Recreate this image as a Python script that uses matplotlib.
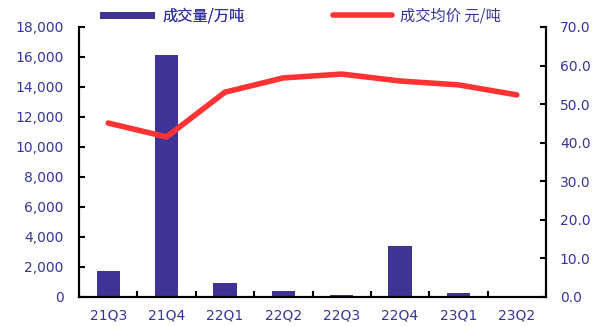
import matplotlib
matplotlib.use("Agg")
import matplotlib.pyplot as plt
from matplotlib.ticker import FuncFormatter, MultipleLocator
import numpy as np

plt.rcParams['font.family'] = ['DejaVu Sans', 'Noto Sans CJK SC']

categories = ["21Q3", "21Q4", "22Q1", "22Q2", "22Q3", "22Q4", "23Q1", "23Q2"]
volume = [1750, 16100, 950, 400, 130, 3400, 280, 0]
price = [45.1, 41.5, 53.1, 56.8, 57.8, 56.0, 55.0, 52.4]
bar_label = "成交量/万吨"
line_label = "成交均价 元/吨"

bar_color = "#3F3495"
line_color = "#FF3333"
text_color = "#3535A0"

fig = plt.figure(figsize=(6.01, 3.27), dpi=100)
ax = fig.add_axes([79/601, 30/327, (546-79)/601, (297-27)/327])
ax2 = ax.twinx()

x = np.arange(len(categories))
bars = ax.bar(x, volume, width=0.4, color=bar_color, zorder=2)
line, = ax2.plot(x, price, color=line_color, lw=4, solid_capstyle='round', solid_joinstyle='round', zorder=3)

ax.set_xlim(-0.5, len(categories) - 0.5)
ax.set_ylim(0, 18000)
ax2.set_ylim(0, 70)
ax.yaxis.set_major_locator(MultipleLocator(2000))
ax2.yaxis.set_major_locator(MultipleLocator(10))
ax.yaxis.set_major_formatter(FuncFormatter(lambda v, p: f"{int(v):,}"))
ax2.yaxis.set_major_formatter(FuncFormatter(lambda v, p: f"{v:.1f}"))

ax.set_xticks(x)
ax.set_xticklabels(categories)
ax.set_xticks(np.arange(-0.5, len(categories), 1.0), minor=True)
ax.tick_params(axis='x', which='major', length=0, pad=8, labelsize=10, labelcolor=text_color)
ax.tick_params(axis='x', which='minor', direction='in', length=4, width=1.5)
ax.tick_params(axis='y', direction='in', length=4, width=1.5, labelsize=10, labelcolor=text_color, pad=11)
ax2.tick_params(axis='y', direction='in', length=4, width=1.5, labelsize=10, labelcolor=text_color, pad=10)

for a in (ax, ax2):
    a.spines['top'].set_visible(False)
    for s in ('left', 'right', 'bottom'):
        a.spines[s].set_linewidth(1.5)
        a.spines[s].set_color('black')

cjk = {'family': ['Noto Sans CJK SC', 'DejaVu Sans'], 'size': 11}
leg1 = fig.legend([bars], [bar_label], loc='upper left', bbox_to_anchor=(92/601, 1.0),
                  frameon=False, handlelength=3.6, handleheight=0.33, prop=cjk,
                  labelcolor=text_color, borderaxespad=0.1, handletextpad=0.5)
leg2 = fig.legend([line], [line_label], loc='upper left', bbox_to_anchor=(325/601, 1.0),
                  frameon=False, handlelength=3.9, prop=cjk,
                  labelcolor=text_color, borderaxespad=0.1, handletextpad=0.5)
fig.add_artist(leg1)

fig.savefig("out.png", dpi=100)
